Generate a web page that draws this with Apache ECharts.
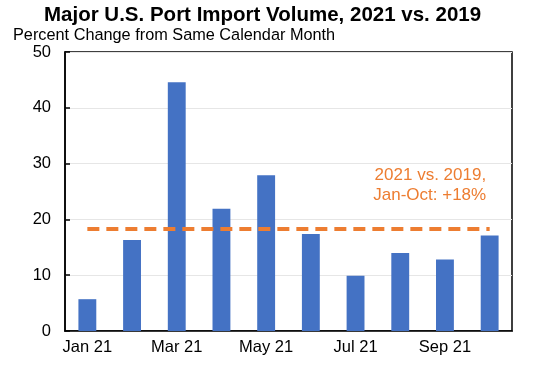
<!DOCTYPE html>
<html><head><meta charset="utf-8">
<script src="https://cdn.jsdelivr.net/npm/echarts@6/dist/echarts.min.js"></script>
<style>html,body{margin:0;padding:0;background:#fff}#c{width:551px;height:368px}</style>
</head><body><div id="c"></div>
<script>
const categories = ['Jan 21','Feb 21','Mar 21','Apr 21','May 21','Jun 21','Jul 21','Aug 21','Sep 21','Oct 21'];
const importChange = [5.7, 16.3, 44.6, 21.9, 27.9, 17.4, 9.9, 14.0, 12.8, 17.1];
const avgValue = 18.3;
const avgLine = categories.map(() => avgValue);
const yTicks = [0, 10, 20, 30, 40, 50];

const chart = echarts.init(document.getElementById('c'));
const font = 'Liberation Sans, Arial, sans-serif';
chart.setOption({
  animation: false,
  title: [
    {text: 'Major U.S. Port Import Volume, 2021 vs. 2019', left: 39, top: 0,
     textStyle: {fontFamily: font, fontSize: 20.5, fontWeight: 'bold', color: '#000'}},
    {text: 'Percent Change from Same Calendar Month', left: 8, top: 23,
     textStyle: {fontFamily: font, fontSize: 16.3, fontWeight: 'normal', color: '#000'}}
  ],
  grid: {left: 65, right: 39, top: 52, bottom: 37, show: true, borderColor: '#000', borderWidth: 1.5},
  xAxis: {
    type: 'category', data: categories,
    axisLine: {lineStyle: {color: '#000', width: 1.5}},
    axisTick: {inside: true, interval: 1, length: 5, lineStyle: {color: '#000', width: 1.5}},
    axisLabel: {interval: 1, fontFamily: font, fontSize: 16.5, color: '#000', margin: 8}
  },
  yAxis: {
    type: 'value', min: yTicks[0], max: yTicks[yTicks.length-1], interval: 10,
    axisLine: {show: true, lineStyle: {color: '#000', width: 1.5}},
    axisTick: {show: true, inside: true, length: 5, lineStyle: {color: '#000', width: 1.5}},
    splitLine: {lineStyle: {color: '#e6e6e6', width: 1}},
    axisLabel: {fontFamily: font, fontSize: 16.5, color: '#000', margin: 14}
  },
  series: [
    {type: 'bar', data: importChange, barWidth: '40%', itemStyle: {color: '#4472C4'}, z: 2},
    {type: 'line', data: avgLine, symbol: 'none', z: 3,
     lineStyle: {color: '#ED7D31', width: 4, type: [12, 7]},
     markPoint: {
       symbol: 'circle', symbolSize: 1,
       itemStyle: {color: 'rgba(0,0,0,0)'},
       data: [{coord: [9, avgValue], value: 1,
         label: {show: true, formatter: '2021 vs. 2019,\nJan-Oct: +18%', position: 'left',
           offset: [2, -44], align: 'right', verticalAlign: 'middle', fontFamily: font, fontSize: 17, lineHeight: 20, color: '#ED7D31'}}]
     }}
  ]
});
</script></body></html>
